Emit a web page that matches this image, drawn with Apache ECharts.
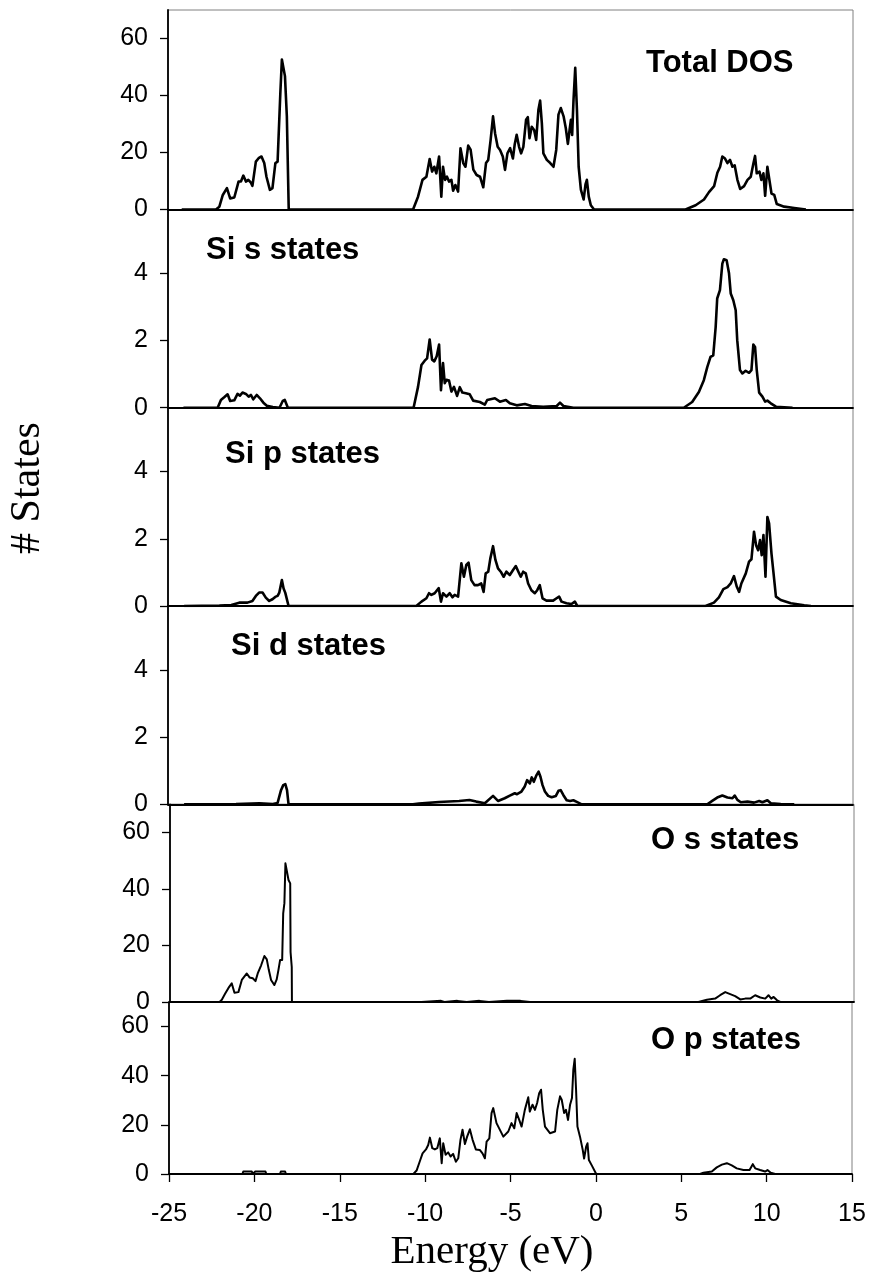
<!DOCTYPE html>
<html>
<head>
<meta charset="utf-8">
<script src="https://cdn.jsdelivr.net/npm/echarts@6/dist/echarts.min.js"></script>
<style>
html,body{margin:0;padding:0;background:#fff;}
#c{width:871px;height:1279px;}
</style>
</head>
<body>
<div id="c"></div>
<script>
// ---- Tick labels ----
const xTicks = [-25, -20, -15, -10, -5, 0, 5, 10, 15];
const yTicksBig = [0, 20, 40, 60];
const yTicksSmall = [0, 2, 4];
const panelNames = ['Total DOS', 'Si s states', 'Si p states', 'Si d states', 'O s states', 'O p states'];

// ---- Series data: [energy (eV), states] ----
const totalDOS = [[-24.2,0],[-22.2,0],[-22.0,1],[-21.8,5.1],[-21.56,7.5],[-21.37,3.9],[-21.13,4.2],[-20.88,9.8],[-20.74,9.8],[-20.6,11.9],[-20.45,9.8],[-20.31,10.4],[-20.16,9.4],[-20.07,8.3],[-19.87,16.8],[-19.71,18],[-19.54,18.6],[-19.38,16.3],[-19.25,11.5],[-19.05,6.9],[-18.9,7.5],[-18.73,16.3],[-18.6,16.8],[-18.5,16.3],[-18.44,40.9],[-18.35,52.6],[-18.25,53],[-18.17,46.8],[-18.06,32.7],[-17.95,0],
[-10.69,0],[-10.4,4.5],[-10.14,10.4],[-9.91,11.5],[-9.72,17.7],[-9.58,13.3],[-9.45,15],[-9.33,12.7],[-9.17,18.6],[-9.04,4.5],[-8.94,15],[-8.82,10.4],[-8.71,11.5],[-8.59,9.8],[-8.45,10.4],[-8.35,6.6],[-8.22,8.6],[-8.06,6.3],[-7.92,21.5],[-7.76,16.3],[-7.63,15],[-7.47,22.4],[-7.33,21],[-7.17,14],[-6.98,12.1],[-6.78,11.5],[-6.59,7.8],[-6.43,16.3],[-6.3,17.4],[-6.16,24.4],[-6.02,32.7],[-5.9,26.7],[-5.75,22],[-5.61,20.9],[-5.45,18.6],[-5.32,13.9],[-5.18,19.7],[-5.02,21.5],[-4.86,17.9],[-4.75,23],[-4.64,26.2],[-4.5,22],[-4.38,19.7],[-4.25,22],[-4.09,31.5],[-3.99,32.4],[-3.89,25],[-3.76,29],[-3.62,27.9],[-3.5,24.4],[-3.37,35],[-3.27,38.2],[-3.17,30.3],[-3.08,19.7],[-2.88,17.4],[-2.68,16.3],[-2.49,15],[-2.33,20.9],[-2.2,33.3],[-2.06,35.6],[-1.9,32.7],[-1.77,28.5],[-1.65,23],[-1.55,27.9],[-1.47,31.5],[-1.4,26.2],[-1.32,38.4],[-1.22,49.7],[-1.12,35],[-1.02,15],[-0.89,7],[-0.73,3.5],[-0.62,8.8],[-0.54,10.4],[-0.43,4.5],[-0.31,1.5],[-0.12,0],
[5.22,0],[5.81,1.5],[6.3,3.5],[6.59,6.1],[6.89,8.2],[7.08,12.9],[7.24,15],[7.37,18.6],[7.51,18],[7.67,16.3],[7.82,17.4],[7.96,15],[8.09,15.5],[8.25,10.4],[8.41,7.2],[8.64,8.2],[8.84,10.4],[9.03,11.5],[9.19,16.3],[9.28,18.8],[9.38,12.7],[9.54,13.3],[9.65,10.4],[9.77,12.7],[9.87,4.8],[10.0,15],[10.1,14.4],[10.24,5.6],[10.4,5.1],[10.55,1.9],[10.98,1],[11.57,0.5],[12.25,0]];

const siS = [[-24.1,0],[-22.1,0],[-21.91,0.23],[-21.72,0.31],[-21.52,0.4],[-21.37,0.2],[-21.13,0.22],[-20.94,0.41],[-20.8,0.36],[-20.65,0.45],[-20.45,0.41],[-20.29,0.33],[-20.16,0.38],[-20.02,0.25],[-19.82,0.38],[-19.63,0.28],[-19.43,0.15],[-19.23,0.06],[-18.88,0.02],[-18.49,0],[-18.3,0.2],[-18.18,0.23],[-18.0,0],
[-10.66,0],[-10.4,0.62],[-10.2,1.27],[-10.01,1.4],[-9.87,1.47],[-9.72,2.03],[-9.58,1.43],[-9.45,1.38],[-9.31,1.53],[-9.17,1.88],[-9.06,0.52],[-8.94,1.33],[-8.84,0.73],[-8.74,0.83],[-8.59,0.81],[-8.45,0.48],[-8.3,0.62],[-8.12,0.35],[-7.96,0.61],[-7.81,0.45],[-7.61,0.43],[-7.38,0.4],[-7.18,0.21],[-6.79,0.17],[-6.5,0.09],[-6.36,0.23],[-5.91,0.28],[-5.62,0.18],[-5.27,0.23],[-5.04,0.13],[-4.64,0.07],[-4.16,0.11],[-3.77,0.05],[-3.09,0.03],[-2.3,0.05],[-2.11,0.15],[-1.91,0.05],[-1.33,0],
[5.12,0],[5.61,0.17],[6.0,0.47],[6.29,0.82],[6.49,1.21],[6.68,1.51],[6.84,1.56],[6.98,2.4],[7.07,3.25],[7.23,3.5],[7.37,4.29],[7.46,4.42],[7.62,4.39],[7.76,4.0],[7.86,3.4],[8.01,3.2],[8.15,2.9],[8.24,2.01],[8.4,1.12],[8.54,1.02],[8.73,1.1],[8.93,1.04],[9.07,1.12],[9.18,1.88],[9.28,1.81],[9.38,1.12],[9.52,0.45],[9.71,0.33],[9.87,0.18],[10.0,0.21],[10.2,0.13],[10.5,0.03],[11.47,0]];

const siP = [[-24.06,0],[-22.0,0.01],[-21.3,0.03],[-20.84,0.1],[-20.36,0.1],[-20.07,0.15],[-19.87,0.3],[-19.68,0.4],[-19.48,0.4],[-19.29,0.25],[-19.09,0.15],[-18.9,0.2],[-18.74,0.27],[-18.6,0.3],[-18.5,0.4],[-18.35,0.77],[-18.25,0.52],[-18.15,0.39],[-18.06,0.37],[-17.96,0],
[-10.5,0],[-10.2,0.13],[-9.91,0.23],[-9.76,0.38],[-9.62,0.33],[-9.43,0.38],[-9.19,0.53],[-9.06,0.13],[-8.94,0.38],[-8.74,0.28],[-8.55,0.38],[-8.39,0.26],[-8.26,0.33],[-8.06,0.28],[-7.87,1.27],[-7.72,0.87],[-7.58,1.22],[-7.45,1.29],[-7.29,0.77],[-7.1,0.62],[-6.9,0.62],[-6.71,0.67],[-6.57,0.42],[-6.45,0.97],[-6.3,1.02],[-6.18,1.41],[-6.02,1.78],[-5.88,1.37],[-5.73,1.12],[-5.57,1.02],[-5.4,0.87],[-5.24,1.02],[-5.04,0.92],[-4.85,1.07],[-4.69,1.19],[-4.54,1.02],[-4.4,0.87],[-4.26,1.02],[-4.11,0.97],[-3.97,0.67],[-3.78,0.47],[-3.58,0.38],[-3.44,0.47],[-3.29,0.62],[-3.13,0.23],[-2.9,0.16],[-2.51,0.16],[-2.31,0.23],[-2.16,0.28],[-2.02,0.13],[-1.73,0.08],[-1.44,0.06],[-1.24,0.13],[-1.1,0],
[6.39,0],[6.88,0.1],[7.17,0.26],[7.43,0.5],[7.67,0.56],[7.86,0.67],[8.05,0.89],[8.21,0.58],[8.35,0.42],[8.48,0.67],[8.74,0.97],[8.93,1.32],[9.07,1.39],[9.22,2.21],[9.34,1.81],[9.46,1.66],[9.57,1.96],[9.67,1.51],[9.77,2.11],[9.89,0.87],[10.0,2.65],[10.1,2.46],[10.24,1.56],[10.35,1.02],[10.5,0.28],[10.78,0.18],[11.37,0.08],[12.15,0.02],[12.54,0]];

const siD = [[-24.06,0],[-21.03,0.01],[-19.66,0.03],[-18.88,0.01],[-18.6,0.04],[-18.4,0.42],[-18.27,0.57],[-18.15,0.6],[-18.05,0.42],[-17.96,0],
[-10.7,0],[-10.35,0.02],[-9.18,0.07],[-8.0,0.1],[-7.4,0.13],[-7.0,0.08],[-6.5,0.03],[-6.02,0.25],[-5.73,0.1],[-5.34,0.18],[-5.04,0.26],[-4.75,0.33],[-4.62,0.3],[-4.36,0.38],[-4.17,0.53],[-4.03,0.72],[-3.87,0.62],[-3.76,0.8],[-3.64,0.67],[-3.48,0.87],[-3.36,0.97],[-3.25,0.82],[-3.13,0.57],[-2.99,0.38],[-2.8,0.25],[-2.6,0.21],[-2.35,0.25],[-2.2,0.4],[-2.07,0.42],[-1.91,0.27],[-1.72,0.12],[-1.52,0.1],[-1.33,0.12],[-1.13,0.07],[-0.84,0],
[6.49,0],[6.78,0.1],[7.07,0.2],[7.37,0.26],[7.67,0.2],[7.96,0.18],[8.09,0.26],[8.25,0.13],[8.45,0.06],[8.84,0.08],[9.22,0.05],[9.52,0.1],[9.71,0.06],[10.0,0.12],[10.2,0.03],[10.78,0.01],[11.57,0]];

const oS = [[-24,0],[-22.1,0],[-21.97,0.8],[-21.78,2.9],[-21.58,5],[-21.39,6.6],[-21.23,3.3],[-21.0,3.5],[-20.8,7.8],[-20.69,8.4],[-20.51,10.1],[-20.35,8.7],[-20.16,8.4],[-20.0,7.4],[-19.87,10.1],[-19.67,13],[-19.48,16.3],[-19.34,15.1],[-19.22,11.3],[-19.09,7.8],[-18.9,6],[-18.76,8],[-18.66,11.3],[-18.56,14.9],[-18.44,14.9],[-18.38,31.4],[-18.31,35],[-18.25,49.1],[-18.15,49.7],[-18.07,43.2],[-17.97,42],[-17.95,17.7],[-17.88,12.4],[-17.87,0],
[-10.3,0],[-10.2,0.4],[-9.15,0.4],[-9.1,0],[-8.95,0],[-8.9,0.4],[-8.2,0.4],[-8.15,0],[-7.65,0],[-7.6,0.4],[-6.9,0.4],[-6.85,0],[-6.35,0],[-6.3,0.4],[-5.3,0.4],[-5.25,0],[-5.2,0.4],[-4.5,0.4],[-4.45,0],[-3.95,0],[-3.9,0.4],[-3.85,0],
[5.9,0],[6.4,0.8],[6.88,1.2],[7.17,2.4],[7.47,3.5],[7.76,2.8],[8.05,2.1],[8.35,0.9],[8.64,1.2],[8.93,1.2],[9.22,2.4],[9.52,1.6],[9.81,1.2],[10.0,2.4],[10.16,1.2],[10.3,1.8],[10.5,0.6],[10.69,0],[12.0,0]];

const oP = [[-24,0],[-20.7,0],[-20.65,1],[-20.15,1],[-20.1,0],[-19.95,1],[-19.35,1],[-19.3,0],[-18.5,0],[-18.45,1],[-18.2,1],[-18.15,0],
[-10.69,0],[-10.5,1.4],[-10.3,5.4],[-10.15,8.4],[-9.95,10],[-9.82,11.8],[-9.72,14.8],[-9.58,10.5],[-9.43,10],[-9.29,10.5],[-9.14,14.5],[-9.03,4.4],[-8.94,12.5],[-8.8,7.8],[-8.65,8.8],[-8.51,7.1],[-8.36,8.2],[-8.2,5],[-8.06,6.4],[-7.93,13.9],[-7.81,18],[-7.67,12.2],[-7.54,15.2],[-7.38,18.2],[-7.22,13.9],[-7.03,10],[-6.8,9.8],[-6.64,8.4],[-6.5,6.4],[-6.4,13.2],[-6.24,14.5],[-6.11,24.8],[-6.01,26.8],[-5.82,20.7],[-5.42,15.2],[-5.13,17.3],[-4.94,20.7],[-4.78,18.6],[-4.64,24.8],[-4.49,22],[-4.35,19.3],[-4.16,26.1],[-3.96,31.2],[-3.87,25.4],[-3.71,28.2],[-3.57,26.1],[-3.44,28.9],[-3.32,32.9],[-3.21,34.3],[-3.11,26.1],[-2.98,19.3],[-2.69,16.6],[-2.39,17.3],[-2.26,26.1],[-2.1,31.6],[-2.0,30.2],[-1.86,24.8],[-1.75,26.1],[-1.63,22],[-1.51,28.2],[-1.4,30.9],[-1.32,42.5],[-1.24,46.9],[-1.16,34.3],[-1.08,19.3],[-0.93,15.2],[-0.77,9.8],[-0.69,6.3],[-0.57,11.1],[-0.49,12.5],[-0.41,5.7],[-0.24,3.5],[0.02,0],
[6.1,0],[6.3,0.5],[6.79,1],[7.08,2.7],[7.38,3.8],[7.67,4.4],[7.96,3.5],[8.25,2.3],[8.64,1.6],[9.0,1.6],[9.19,4],[9.33,2.3],[9.62,1.6],[9.91,1],[10.05,1.6],[10.24,0.5],[10.5,0],[13.5,0]];

// ---- Layout (pixels) ----
const zeros = [209.5, 407.7, 606, 804.3, 1002, 1174];
const tops  = [10, 209.5, 407.7, 606, 804.3, 1002];
const lefts = [168, 168, 168, 168, 170, 169];
const widths = [685, 685, 685, 685, 684, 683];
const yMax = [70, 5.9, 5.9, 5.9, 70, 70];
const seriesData = [totalDOS, siS, siP, siD, oS, oP];
const lineW = [2.6, 2.6, 2.6, 2.6, 2.0, 2.0];
const labelPos = [[646, 63], [206, 250], [225, 454], [231, 646], [651, 840], [651, 1040]];

const FONT = "'Liberation Sans', Arial, sans-serif";
const SERIF = "'Liberation Serif', 'Times New Roman', serif";

const grids = [], xAxes = [], yAxes = [], series = [], graphics = [];
for (let i = 0; i < 6; i++) {
  const last = i === 5;
  grids.push({
    left: lefts[i], top: tops[i], width: widths[i], height: zeros[i] - tops[i],
    show: true, borderColor: '#808080', borderWidth: 1, backgroundColor: 'transparent',
    containLabel: false, outerBoundsMode: 'none'
  });
  xAxes.push({
    type: 'value', gridIndex: i, min: -25, max: 15, interval: 5,
    axisLine: { show: true, onZero: false, lineStyle: { color: '#000', width: 1.8 } },
    axisTick: { show: last, length: 8, lineStyle: { color: '#000', width: 1.3 } },
    axisLabel: { show: last, margin: 28, fontSize: 25, color: '#000', fontFamily: FONT,
                 formatter: v => xTicks.includes(v) ? String(v) : '' },
    splitLine: { show: false }
  });
  const yt = (yMax[i] > 10) ? yTicksBig : yTicksSmall;
  yAxes.push({
    type: 'value', gridIndex: i, min: 0, max: yMax[i],
    axisLine: { show: true, onZero: false, lineStyle: { color: '#000', width: 1.8 } },
    axisTick: { show: true, length: 8, customValues: yt, lineStyle: { color: '#000', width: 1.3 } },
    axisLabel: { show: true, margin: 20, fontSize: 25, color: '#000', fontFamily: FONT, customValues: yt },
    splitLine: { show: false }
  });
  series.push({
    type: 'line', xAxisIndex: i, yAxisIndex: i, data: seriesData[i],
    showSymbol: false, symbol: 'none', silent: true,
    lineStyle: { color: '#000', width: lineW[i], join: 'round' }
  });
  graphics.push({
    type: 'text', x: labelPos[i][0], y: labelPos[i][1],
    style: { text: panelNames[i], fill: '#000', font: "bold 31px " + FONT, align: 'left', verticalAlign: 'middle' }
  });
}
graphics.push({
  type: 'text', x: 28, y: 488, rotation: Math.PI / 2,
  style: { text: '# States', fill: '#000', font: "42px " + SERIF, align: 'center', verticalAlign: 'middle' }
});
graphics.push({
  type: 'text', x: 492, y: 1252,
  style: { text: 'Energy (eV)', fill: '#000', font: "41px " + SERIF, align: 'center', verticalAlign: 'middle' }
});

const chart = echarts.init(document.getElementById('c'), null, { renderer: 'canvas' });
chart.setOption({
  animation: false,
  backgroundColor: '#fff',
  grid: grids, xAxis: xAxes, yAxis: yAxes, series: series, graphic: graphics
});
</script>
</body>
</html>
